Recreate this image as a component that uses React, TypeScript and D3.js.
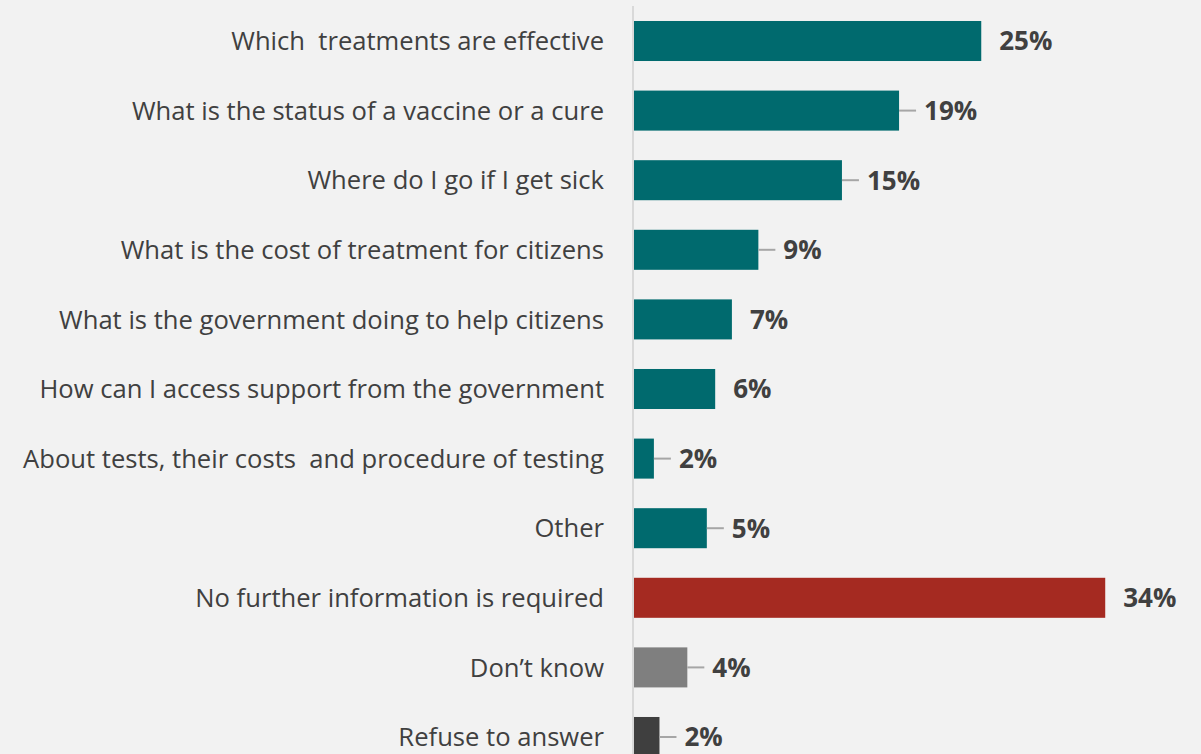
import React from "react";
import * as d3 from "d3";

const categories = [
  "Which  treatments are effective",
  "What is the status of a vaccine or a cure",
  "Where do I go if I get sick",
  "What is the cost of treatment for citizens",
  "What is the government doing to help citizens",
  "How can I access support from the government",
  "About tests, their costs  and procedure of testing",
  "Other",
  "No further information is required",
  "Don\u2019t know",
  "Refuse to answer",
];
const values = [25.0, 19.1, 15.0, 9.0, 7.1, 5.9, 1.5, 5.3, 33.9, 3.9, 1.9];
const valueLabels = ["25%", "19%", "15%", "9%", "7%", "6%", "2%", "5%", "34%", "4%", "2%"];
const groups = ["info", "info", "info", "info", "info", "info", "info", "info", "none", "dk", "ref"];
const showLeader = [false, true, true, true, false, false, true, true, false, true, true];

const W = 1201;
const H = 754;
const colorMap: Record<string, string> = {
  info: "#006a6e",
  none: "#a52a21",
  dk: "#7f7f7f",
  ref: "#3f3f3f",
};

export default function App() {
  const x = d3.scaleLinear().domain([0, 40]).range([633, 633 + 13.93 * 40]);
  const y = d3
    .scaleBand<string>()
    .domain(categories)
    .range([6.2, 6.2 + 11 * 69.6])
    .paddingInner(0.425)
    .paddingOuter(0.2125);
  const bw = y.bandwidth();
  const font = "'Open Sans', sans-serif";
  return (
    <svg
      width={W}
      height={H}
      style={{ position: "absolute", left: 0, top: 0, display: "block" }}
    >
      <rect x={0} y={0} width={W} height={H} fill="#f2f2f2" />
      {categories.map((c, i) => {
        const y0 = y(c)!;
        const cy = y0 + bw / 2;
        const xe = x(values[i]);
        const labelX = xe + (showLeader[i] ? 25 : 18);
        return (
          <g key={c}>
            <rect
              x={x(0)}
              y={y0}
              width={xe - x(0)}
              height={bw}
              fill={colorMap[groups[i]]}
            />
            {showLeader[i] && (
              <line
                x1={xe}
                x2={xe + 17}
                y1={cy}
                y2={cy}
                stroke="#a6a6a6"
                strokeWidth={2}
              />
            )}
            <text
              x={labelX}
              y={cy}
              dy="0.36em"
              fontFamily={font}
              fontWeight="bold"
              fontSize={26}
              fill="#404040"
            >
              {valueLabels[i]}
            </text>
            <text
              x={604}
              y={cy}
              dy="0.36em"
              textAnchor="end"
              fontFamily={font}
              fontSize={25.6}
              fill="#404040"
              style={{ whiteSpace: "pre" }}
            >
              {c}
            </text>
          </g>
        );
      })}
      <line x1={633} x2={633} y1={6} y2={H} stroke="#d9d9d9" strokeWidth={2} />
    </svg>
  );
}
